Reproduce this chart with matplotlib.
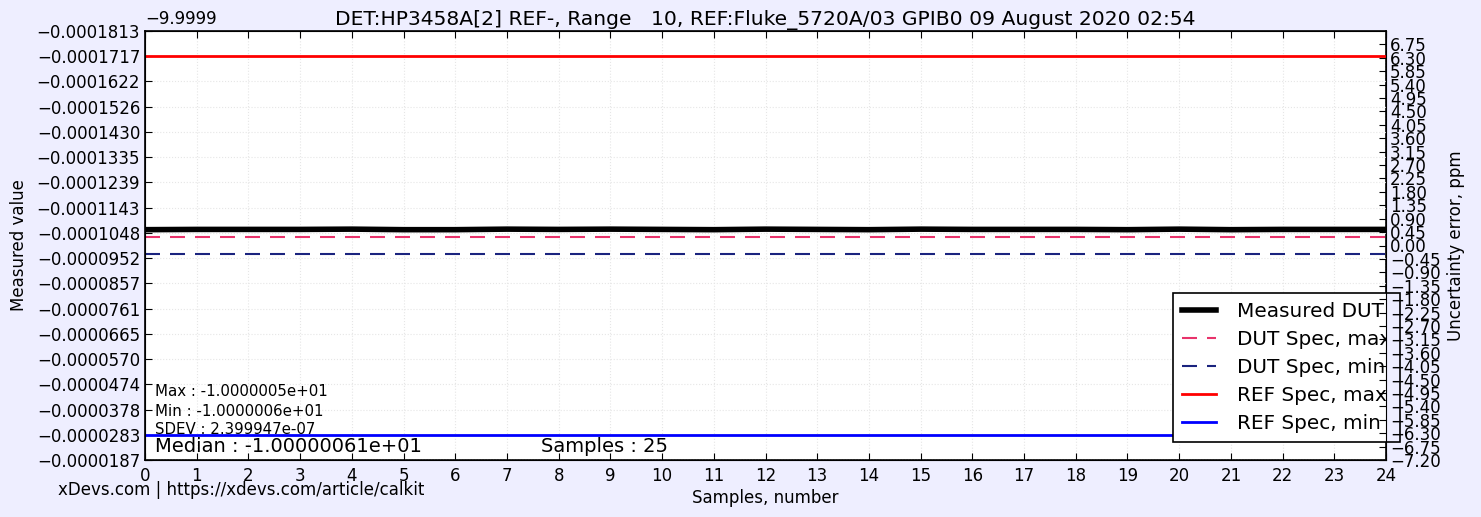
import matplotlib
matplotlib.use("Agg")
import matplotlib.pyplot as plt
from matplotlib.patches import Rectangle
import numpy as np

# ---------------- data ----------------
samples = list(range(25))
measured = [-10.0000060, -10.0000061, -10.0000061, -10.0000061, -10.0000062,
            -10.0000060, -10.0000060, -10.0000062, -10.0000061, -10.0000062,
            -10.0000061, -10.0000060, -10.0000062, -10.0000061, -10.0000060,
            -10.0000062, -10.0000061, -10.0000061, -10.0000061, -10.0000060,
            -10.0000062, -10.0000060, -10.0000061, -10.0000061, -10.0000061]
dut_spec_max = -10.0000031
dut_spec_min = -9.9999969
ref_spec_max = -10.0000718
ref_spec_min = -9.9999280

y_offset = -9.9999
left_tick_labels = ["−0.0001813", "−0.0001717", "−0.0001622", "−0.0001526",
                    "−0.0001430", "−0.0001335", "−0.0001239", "−0.0001143",
                    "−0.0001048", "−0.0000952", "−0.0000857", "−0.0000761",
                    "−0.0000665", "−0.0000570", "−0.0000474", "−0.0000378",
                    "−0.0000283", "−0.0000187"]
y_top = -10.0000813
y_bottom = -9.9999187

right_ticks = [6.75, 6.30, 5.85, 5.40, 4.95, 4.50, 4.05, 3.60, 3.15, 2.70,
               2.25, 1.80, 1.35, 0.90, 0.45, 0.00, -0.45, -0.90, -1.35, -1.80,
               -2.25, -2.70, -3.15, -3.60, -4.05, -4.50, -4.95, -5.40, -5.85,
               -6.30, -6.75, -7.20]
right_lim = (-7.2, 7.2)

title = "DET:HP3458A[2] REF-, Range   10, REF:Fluke_5720A/03 GPIB0 09 August 2020 02:54"
stat_max = "Max : -1.0000005e+01"
stat_min = "Min : -1.0000006e+01"
stat_sdev = "SDEV : 2.399947e-07"
stat_median = "Median : -1.00000061e+01"
stat_samples = "Samples : 25"
footer = "xDevs.com | https://xdevs.com/article/calkit"

# ---------------- figure ----------------
W, H = 1481, 517
bg = "#eeeeff"
fig = plt.figure(figsize=(W / 100, H / 100), dpi=100, facecolor=bg)
L, R, T, B = 145, 1386, 31, 460
ax = fig.add_axes([L / W, 1 - B / H, (R - L) / W, (B - T) / H])
ax.set_facecolor("white")

ax.plot(samples, measured, color="black", lw=4, label="Measured DUT", zorder=3)
ax.plot(samples, [dut_spec_max] * len(samples), color="#e8336b", lw=1.5,
        dashes=(7.2, 4.8), label="DUT Spec, max", zorder=3)
ax.plot(samples, [dut_spec_min] * len(samples), color="#1a237e", lw=1.5,
        dashes=(7.2, 4.8), label="DUT Spec, min", zorder=3)
ax.plot(samples, [ref_spec_max] * len(samples), color="red", lw=2,
        label="REF Spec, max", zorder=3)
ax.plot(samples, [ref_spec_min] * len(samples), color="blue", lw=2,
        label="REF Spec, min", zorder=3)

ax.set_xlim(0, 24)
ax.set_xticks(range(0, 25))
ax.set_ylim(y_bottom, y_top)
yt = [y_offset + float(s.replace("−", "-")) for s in left_tick_labels]
ax.set_yticks(yt)
ax.set_yticklabels(left_tick_labels)
ax.tick_params(axis="both", direction="in", length=5, width=0.8, labelsize=12,
               top=True, right=False)
ax.tick_params(axis="x", pad=5)
ax.grid(True, color="#e6e6e6", linestyle=":", lw=0.8, zorder=4)
ax.set_axisbelow(False)
for sp in ax.spines.values():
    sp.set_linewidth(1.2)

ax.text(0, 1.006, "−9.9999", transform=ax.transAxes, ha="left", va="bottom",
        fontsize=12)
ax.set_title(title, fontsize=14.6, pad=4)
ax.set_xlabel("Samples, number", fontsize=12, labelpad=3)
ax.set_ylabel("Measured value", fontsize=12, labelpad=6)

ax2 = ax.twinx()
ax2.set_ylim(*right_lim)
ax2.set_yticks(right_ticks)
ax2.set_yticklabels(["%.2f" % v if v >= 0 else "−%.2f" % -v for v in right_ticks])
ax2.tick_params(axis="y", direction="in", length=5, width=0.8, labelsize=12,
                pad=3)
ax2.set_ylabel("Uncertainty error, ppm", fontsize=12, labelpad=4)

# stats text
def fx(x):
    return x / W
def fy(y):
    return 1 - y / H
fig.text(fx(155), fy(392), stat_max, fontsize=10.8, va="center", ha="left")
fig.text(fx(155), fy(411), stat_min, fontsize=10.8, va="center", ha="left")
fig.text(fx(155), fy(429), stat_sdev, fontsize=10.8, va="center", ha="left", zorder=0)
fig.text(fx(155), fy(447), stat_median, fontsize=14, va="center", ha="left")
fig.text(fx(541), fy(447), stat_samples, fontsize=14, va="center", ha="left")
fig.text(fx(58), fy(490), footer, fontsize=12, va="center", ha="left")

# legend
leg = ax.legend(loc="lower left", bbox_to_anchor=(fx(1173), fy(442)),
                bbox_transform=fig.transFigure, fontsize=14.4, frameon=True,
                fancybox=False, borderaxespad=0, handlelength=1.7,
                handletextpad=1.05, labelspacing=0.45, borderpad=0.45)
leg.set_zorder(10)
frame = leg.get_frame()
frame.set_facecolor("white")
frame.set_edgecolor("none")
frame.set_alpha(1.0)
frame.set_clip_box(ax.bbox)
frame.set_clip_on(True)
for t in leg.get_texts():
    t.set_clip_box(ax.bbox)
    t.set_clip_on(True)

fig.canvas.draw()
bb = leg.get_window_extent()
outline = Rectangle((bb.x0, bb.y0), bb.width, bb.height, transform=None,
                    fill=False, edgecolor="black", lw=1.2, zorder=20)
fig.patches.append(outline)

fig.savefig("out.png", dpi=100, facecolor=bg)
